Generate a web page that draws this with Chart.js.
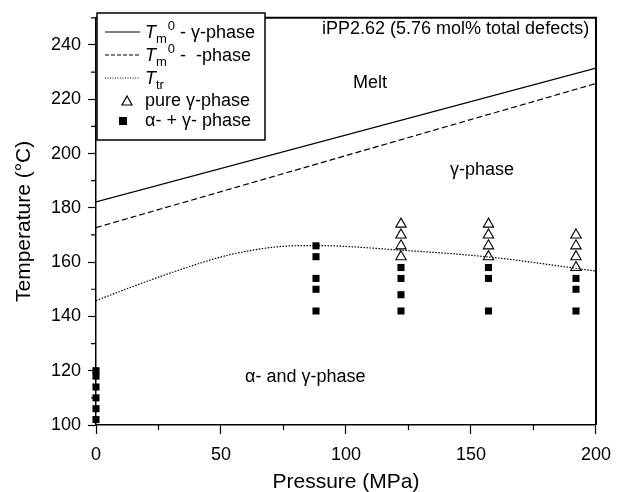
<!DOCTYPE html>
<html>
<head>
<meta charset="utf-8">
<script src="https://cdn.jsdelivr.net/npm/chart.js@4.4.1/dist/chart.umd.min.js"></script>
<style>
  html, body { margin:0; padding:0; background:#fff; }
  #wrap { width:621px; height:492px; }
</style>
</head>
<body>
<div id="wrap"><canvas id="c" width="621" height="492"></canvas></div>
<script>
// Tm0 lines (pressure MPa -> temperature °C)
const tmGammaP = [0, 200];
const tmGammaT = [182.2, 231.5];
const tmBetaP = [0, 200];
const tmBetaT = [172.7, 225.8];
// transition line
const trP = [0, 13, 33, 53, 72, 88, 122, 158, 200];
const trT = [145.8, 150.4, 157, 162.6, 165.6, 166.1, 164.4, 161.8, 156.7];
// pure gamma phase (triangles)
const pureP = [122, 122, 122, 122, 157, 157, 157, 157, 192, 192, 192, 192];
const pureT = [174, 170, 166, 162, 174, 170, 166, 162, 170, 166, 162, 158];
// alpha + gamma (squares)
const mixP = [0, 0, 0, 0, 0, 0, 88, 88, 88, 88, 88, 122, 122, 122, 122, 157, 157, 157, 192, 192, 192];
const mixT = [120, 118, 114, 110, 106, 102, 166, 162, 154, 150, 142, 158, 154, 148, 142, 158, 154, 142, 154, 150, 142];

const xTicks = [0, 50, 100, 150, 200];
const yTicks = [100, 120, 140, 160, 180, 200, 220, 240];
const xMinor = [25, 75, 125, 175];
const yMinor = [110, 130, 150, 170, 190, 210, 230, 250];

const pts = (xs, ys) => xs.map((x, i) => ({x: x, y: ys[i]}));
const FONT = '"Liberation Sans", Arial, Helvetica, sans-serif';

const decor = {
  id: 'decor',
  afterDraw(chart) {
    const ctx = chart.ctx, a = chart.chartArea;
    const xs = chart.scales.x, ys = chart.scales.y;
    ctx.save();
    // frame top/right
    ctx.strokeStyle = '#000';
    ctx.lineWidth = 2;
    ctx.beginPath();
    ctx.moveTo(a.left, a.top); ctx.lineTo(a.right, a.top); ctx.lineTo(a.right, a.bottom);
    ctx.stroke();
    // minor ticks
    ctx.lineWidth = 1.2;
    ctx.beginPath();
    xMinor.forEach(v => { const px = xs.getPixelForValue(v); ctx.moveTo(px, a.bottom); ctx.lineTo(px, a.bottom + 5); });
    yMinor.forEach(v => { const py = ys.getPixelForValue(v); ctx.moveTo(a.left, py); ctx.lineTo(a.left - 5, py); });
    ctx.stroke();

    // axis titles
    ctx.fillStyle = '#000';
    ctx.font = '21px ' + FONT;
    ctx.textAlign = 'center'; ctx.textBaseline = 'middle';
    ctx.fillText('Pressure (MPa)', (a.left + a.right) / 2, 482);
    ctx.save();
    ctx.translate(24, (a.top + a.bottom) / 2);
    ctx.rotate(-Math.PI / 2);
    ctx.fillText('Temperature (\u00B0C)', 0, 0);
    ctx.restore();

    // annotations
    ctx.font = '18px ' + FONT;
    ctx.textAlign = 'left';
    ctx.fillText('iPP2.62 (5.76 mol% total defects)', 322, 29);
    ctx.fillText('Melt', 353, 83);
    ctx.fillText('\u03B3-phase', 450, 170);
    ctx.fillText('\u03B1- and \u03B3-phase', 245, 377);

    // legend
    const lx = 97, ly = 13, lw = 168, lh = 127;
    ctx.fillStyle = '#fff';
    ctx.fillRect(lx, ly, lw, lh);
    ctx.lineWidth = 1.5;
    ctx.strokeStyle = '#000';
    ctx.strokeRect(lx, ly, lw, lh);
    const rows = [32, 55, 78, 101, 121];
    const dashes = [[], [4, 2], [1, 1.5]];
    ctx.lineWidth = 1;
    dashes.forEach((d, i) => {
      ctx.setLineDash(d);
      ctx.beginPath(); ctx.moveTo(105, rows[i]); ctx.lineTo(140, rows[i]); ctx.stroke();
    });
    ctx.setLineDash([]);
    const tm = (y, rest, sup) => {
      ctx.fillStyle = '#000';
      ctx.font = 'italic 18px ' + FONT;
      ctx.textBaseline = 'alphabetic';
      ctx.fillText('T', 145, y + 6);
      let x = 145 + ctx.measureText('T').width;
      ctx.font = '13px ' + FONT;
      ctx.fillText(sup ? 'm' : 'tr', x, y + 11);
      if (sup) {
        x += ctx.measureText('m').width + 1;
        ctx.fillText('0', x, y - 2);
        x += ctx.measureText('0').width;
      } else {
        x += ctx.measureText('tr').width;
      }
      ctx.font = '18px ' + FONT;
      ctx.fillText(rest, x, y + 6);
    };
    tm(rows[0], ' - \u03B3-phase', true);
    tm(rows[1], ' -  -phase', true);
    tm(rows[2], '', false);
    // markers
    ctx.lineWidth = 1.2;
    ctx.beginPath();
    ctx.moveTo(127, rows[3] - 5); ctx.lineTo(132, rows[3] + 4); ctx.lineTo(122, rows[3] + 4); ctx.closePath();
    ctx.stroke();
    ctx.fillRect(119, rows[4] - 4, 8, 8);
    ctx.font = '18px ' + FONT;
    ctx.textBaseline = 'middle';
    ctx.fillText('pure \u03B3-phase', 145, rows[3]);
    ctx.fillText('\u03B1- + \u03B3- phase', 145, rows[4]);
    ctx.restore();
  }
};

new Chart(document.getElementById('c'), {
  type: 'line',
  data: {
    datasets: [
      { label: 'Tm0 - gamma', data: pts(tmGammaP, tmGammaT), borderColor: '#000', borderWidth: 1.2, pointRadius: 0, fill: false },
      { label: 'Tm0 - beta', data: pts(tmBetaP, tmBetaT), borderColor: '#000', borderWidth: 1.2, borderDash: [6, 3], pointRadius: 0, fill: false },
      { label: 'Ttr', data: pts(trP, trT), borderColor: '#000', borderWidth: 1.2, borderDash: [1.5, 1.5], pointRadius: 0, cubicInterpolationMode: 'monotone', fill: false },
      { type: 'scatter', label: 'pure gamma', data: pts(pureP, pureT), pointStyle: 'triangle', radius: 6, borderColor: '#000', backgroundColor: '#fff', borderWidth: 1.1, clip: false },
      { type: 'scatter', label: 'alpha + gamma', data: pts(mixP, mixT), pointStyle: 'rect', radius: 5, borderColor: '#000', backgroundColor: '#000', borderWidth: 0, clip: false }
    ]
  },
  options: {
    responsive: false,
    animation: false,
    layout: { padding: { left: 0, top: 12, right: 17, bottom: 0 } },
    plugins: { legend: { display: false }, tooltip: { enabled: false } },
    scales: {
      x: {
        type: 'linear', min: 0, max: 200,
        afterBuildTicks: s => { s.ticks = xTicks.map(v => ({value: v})); },
        afterFit: s => { s.height = 67; },
        border: { color: '#000', width: 1.5 },
        grid: { drawOnChartArea: false, tickLength: 9, tickColor: '#000', tickWidth: 1.2 },
        ticks: { color: '#000', padding: 10, font: { family: FONT, size: 18 } }
      },
      y: {
        type: 'linear', min: 100, max: 250,
        afterBuildTicks: s => { s.ticks = yTicks.map(v => ({value: v})); },
        afterFit: s => { s.width = 96; },
        border: { color: '#000', width: 1.5 },
        grid: { drawOnChartArea: false, tickLength: 8, tickColor: '#000', tickWidth: 1.2 },
        ticks: { color: '#000', padding: 7, font: { family: FONT, size: 18 } }
      }
    }
  },
  plugins: [decor]
});
</script>
</body>
</html>
